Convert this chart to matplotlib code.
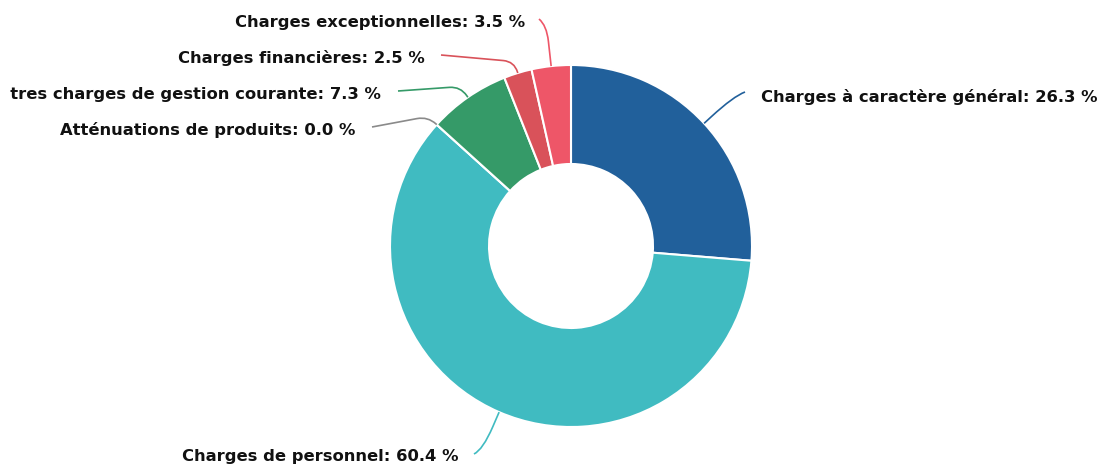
import numpy as np
import matplotlib
matplotlib.use('Agg')
import matplotlib.pyplot as plt
from matplotlib.path import Path
from matplotlib.patches import PathPatch
from matplotlib.transforms import Bbox, TransformedBbox

# data
categories = ['Charges à caractère général', 'Charges de personnel',
              'Atténuations de produits', 'Autres charges de gestion courante',
              'Charges financières', 'Charges exceptionnelles']
values = [26.3, 60.4, 0.0, 7.3, 2.5, 3.5]
colors = ['#21609b', '#40bbc1', '#8a8a8a', '#359a68', '#d9525a', '#ee5668']

# layout (pixel coords, y measured from top)
W, H = 1102, 467
cx, cy = 571, 246
r_out, r_in = 181, 82
knee_extra = [40, 41, 12, 13, 12, 41]
corner = [30, 25, 11, 11, 11, 16]
line_end = [(745, 92), (474, 454), (372, 127), (398, 91), (441, 55), (539, 19)]
label_pos = [(761, 97), (458, 457), (355, 130), (381, 95), (425, 58), (525, 22)]
label_ha = ['left', 'right', 'right', 'right', 'right', 'right']

fig = plt.figure(figsize=(W / 100, H / 100), dpi=100)
ax = fig.add_axes([0, 0, 1, 1])

ax.pie(values, colors=colors, startangle=90, counterclock=False,
       radius=r_out, center=(cx, H - cy),
       wedgeprops=dict(width=r_out - r_in, edgecolor='white', linewidth=1.5))

ax.set_xlim(0, W)
ax.set_ylim(0, H)
ax.set_aspect('equal')
ax.axis('off')

# labels are cut at the left margin, like the original chart
clipbox = TransformedBbox(Bbox([[10, 0], [W, H]]), ax.transData)

cum = np.cumsum([0] + values)
for i, name in enumerate(categories):
    mid = np.deg2rad(90 - 3.6 * (cum[i] + cum[i + 1]) / 2)
    p0 = np.array([cx + r_out * np.cos(mid), H - cy + r_out * np.sin(mid)])
    k = np.array([cx + (r_out + knee_extra[i]) * np.cos(mid),
                  H - cy + (r_out + knee_extra[i]) * np.sin(mid)])
    e = np.array([line_end[i][0], H - line_end[i][1]])
    a = k + (p0 - k) * min(1.0, corner[i] / np.linalg.norm(p0 - k))
    b = k + (e - k) * min(1.0, corner[i] / np.linalg.norm(e - k))
    path = Path([p0, a, k, b, e],
                [Path.MOVETO, Path.LINETO, Path.CURVE3, Path.CURVE3, Path.LINETO])
    ax.add_patch(PathPatch(path, fill=False, edgecolor=colors[i], linewidth=1.2))
    lx, ly = label_pos[i]
    t = ax.text(lx, H - ly, '%s: %.1f %%' % (name, values[i]), ha=label_ha[i],
                va='center', fontsize=11.8, fontweight='bold', color='#111111')
    t.set_clip_path(None)
    t.set_clip_box(clipbox)
    t.set_clip_on(True)

fig.savefig('out.png', dpi=100)
